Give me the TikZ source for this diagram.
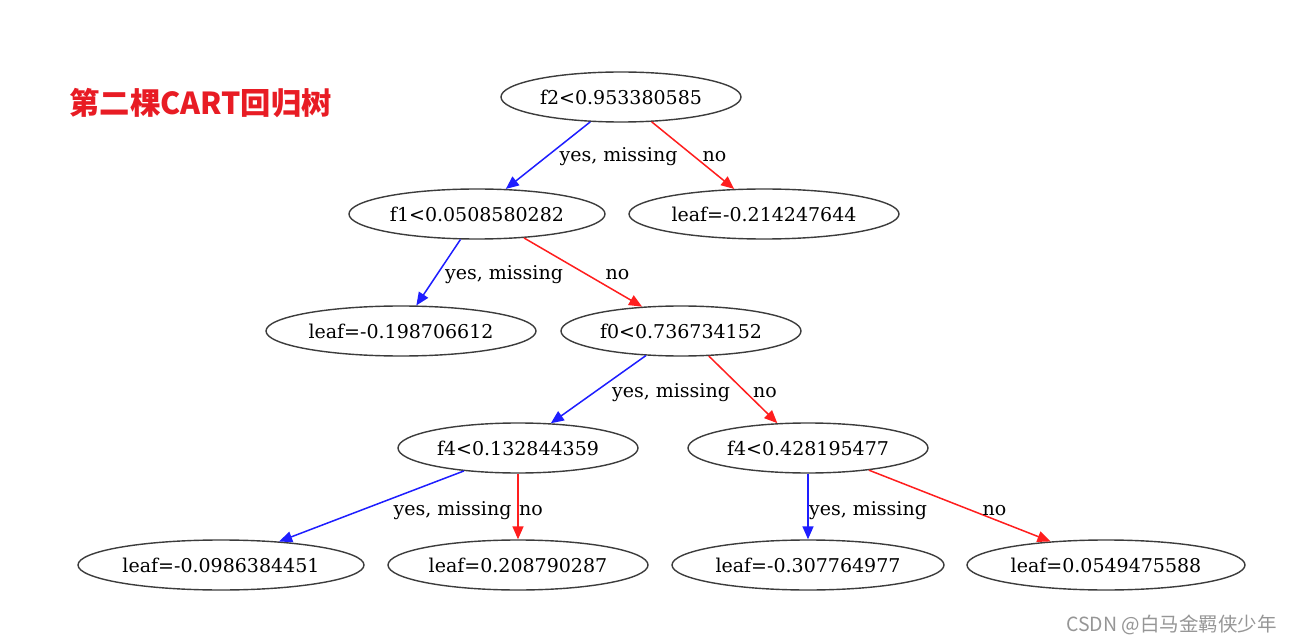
\documentclass[tikz,border=0pt]{standalone}
\usepackage{fontspec}
\usetikzlibrary{shapes.geometric,arrows.meta}
\newfontfamily\dvserif{DejaVu Serif}
\newfontfamily\cjkfont{Noto Sans CJK SC}
\definecolor{titlered}{RGB}{232,28,36}
\definecolor{edgeblue}{RGB}{30,30,255}
\definecolor{edgered}{RGB}{255,30,30}
\definecolor{ellgray}{RGB}{60,60,60}
\definecolor{wmgray}{RGB}{150,150,150}
\tikzset{
  tnode/.style={ellipse, draw=ellgray, line width=1.4pt, inner sep=0pt,
    minimum height=50pt, font=\dvserif\fontsize{19}{22}\selectfont, text=black},
  yesedge/.style={draw=edgeblue, line width=1.5pt, -{Triangle[length=13pt,width=11pt]}, fill=edgeblue},
  noedge/.style={draw=edgered, line width=1.5pt, -{Triangle[length=13pt,width=11pt]}, fill=edgered},
  elabel/.style={anchor=base, inner sep=0pt, font=\dvserif\fontsize{19}{22}\selectfont, text=black}
}
\begin{document}
\begin{tikzpicture}[x=1pt,y=-1pt]
\useasboundingbox (0,0) rectangle (1293,644);
\fill[white] (0,0) rectangle (1293,644);

\node[anchor=center, text=titlered, font=\cjkfont\bfseries\fontsize{30.3}{34}\selectfont, inner sep=0pt] (title) at (200.5,103) {第二棵CART回归树};

\node[tnode, minimum width=240pt] (root) at (621,97) {f2<0.953380585};
\node[tnode, minimum width=256pt] (f1) at (477,214) {f1<0.0508580282};
\node[tnode, minimum width=270pt] (lr1) at (764,214) {leaf=-0.214247644};
\node[tnode, minimum width=270pt] (ll2) at (401,331) {leaf=-0.198706612};
\node[tnode, minimum width=240pt] (f0) at (681,331) {f0<0.736734152};
\node[tnode, minimum width=240pt] (f4a) at (518,448) {f4<0.132844359};
\node[tnode, minimum width=240pt] (f4b) at (808,448) {f4<0.428195477};
\node[tnode, minimum width=286pt] (l3) at (221,565) {leaf=-0.0986384451};
\node[tnode, minimum width=260pt] (l4) at (518,565) {leaf=0.208790287};
\node[tnode, minimum width=272pt] (l5) at (808,565) {leaf=-0.307764977};
\node[tnode, minimum width=278pt] (l6) at (1106,565) {leaf=0.0549475588};

\draw[yesedge] (root.-141) -- (f1.41);
\draw[noedge] (root.-39) -- (lr1.140);
\draw[yesedge] (f1.-123) -- (ll2.59);
\draw[noedge] (f1.-27) -- (f0.148);
\draw[yesedge] (f0.-145) -- (f4a.37);
\draw[noedge] (f0.-42) -- (f4b.141);
\draw[yesedge] (f4a.-157.6) -- (l3.22.8);
\draw[noedge] (f4a.south) -- (f4a.south |- l4.north);
\draw[yesedge] (f4b.south) -- (f4b.south |- l5.north);
\draw[noedge] (f4b.-20.7) -- (l6.157.8);

\node[elabel] (y1) at (618.5,162) {yes, missing};
\node[elabel] (n1) at (714.5,162) {no};
\node[elabel] (y2) at (504,280) {yes, missing};
\node[elabel] (n2) at (617.5,280) {no};
\node[elabel] (y3) at (671,397) {yes, missing};
\node[elabel] (n3) at (765,397) {no};
\node[elabel] (y4) at (452.5,515) {yes, missing};
\node[elabel] (n4) at (531,515) {no};
\node[elabel] (y5) at (868,515) {yes, missing};
\node[elabel] (n5) at (994.5,515) {no};

\node[anchor=east, inner sep=0pt, text=wmgray, font=\cjkfont\fontsize{19.5}{22}\selectfont] (wm) at (1277,625) {CSDN @白马金羁侠少年};
\end{tikzpicture}
\end{document}
